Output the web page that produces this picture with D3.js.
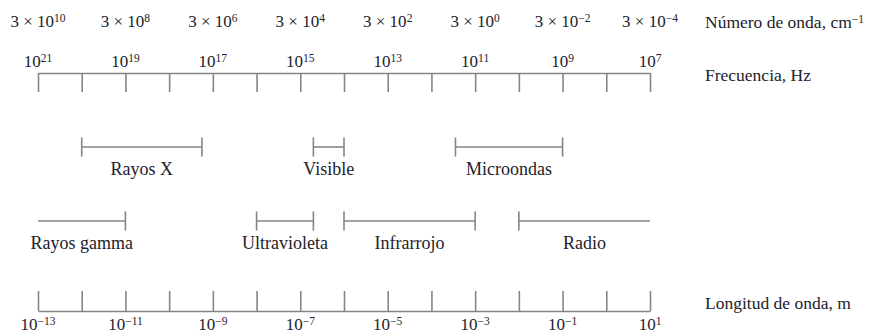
<!DOCTYPE html>
<html>
<head>
<meta charset="utf-8">
<script src="https://cdn.jsdelivr.net/npm/d3@7"></script>
<style>
  html, body { margin: 0; padding: 0; background: #fff; }
  svg { display: block; }
  text { font-family: "Liberation Serif", "Times New Roman", serif; fill: #22222c; }
</style>
</head>
<body>
<svg id="chart" width="875" height="334"></svg>
<script>
// Decade exponents of frequency (Hz) spanned by the scale
const freqDomainExp = [21, 7];
// Every decade gets a tick
const tickExps = d3.range(21, 6, -1);
// Labelled decades (every second one)
const freqLabelExps = [21, 19, 17, 15, 13, 11, 9, 7];
// Wavenumber labels, cm^-1: mantissa 3, exponents below
const waveNumMantissa = 3;
const waveNumExps = [10, 8, 6, 4, 2, 0, -2, -4];
// Wavelength labels, m
const waveLenExps = [-13, -11, -9, -7, -5, -3, -1, 1];

// Spectral regions, bounds as log10(frequency / Hz)
const bandNames = ["Rayos X", "Visible", "Microondas", "Rayos gamma", "Ultravioleta", "Infrarrojo", "Radio"];
const bandHigh  = [20, 14.7, 11.45, 21, 16, 14, 10];
const bandLow   = [17.25, 14, 9, 19, 14.7, 11, 7];
const bandRow   = [0, 0, 0, 1, 1, 1, 1];
// whether the high / low ends are closed with a cap
const bandCapHigh = [true, true, true, false, true, true, true];
const bandCapLow  = [true, true, true, true, true, true, false];

const axisTitles = ["Número de onda, cm", "Frecuencia, Hz", "Longitud de onda, m"];

const svg = d3.select("#chart");
const lineColor = "#858585";

const x = d3.scaleLog()
  .domain(freqDomainExp.map(e => Math.pow(10, e)))
  .range([38, 650]);

const minus = n => (n < 0 ? "\u2212" + Math.abs(n) : String(n));

// power-of-ten label with raised exponent
function powerLabel(g, xPos, y, exp, prefix) {
  const t = g.append("text")
    .attr("x", xPos)
    .attr("y", y)
    .attr("text-anchor", "middle")
    .style("font-size", "17px");
  t.append("tspan").text((prefix || "") + "10");
  t.append("tspan")
    .attr("dy", -5)
    .style("font-size", "11.5px")
    .text(minus(exp));
}

// ---- top (frequency) axis: ticks hang down from the rule
const yTop = 73;
const topAxis = d3.axisBottom(x)
  .tickValues(tickExps.map(e => Math.pow(10, e)))
  .tickSize(19)
  .tickSizeOuter(0)
  .tickFormat("");
const gTop = svg.append("g").attr("transform", `translate(0,${yTop})`).call(topAxis);

// ---- bottom (wavelength) axis: ticks rise from the rule
const yBot = 311;
const botAxis = d3.axisTop(x)
  .tickValues(tickExps.map(e => Math.pow(10, e)))
  .tickSize(20)
  .tickSizeOuter(0)
  .tickFormat("");
const gBot = svg.append("g").attr("transform", `translate(0,${yBot})`).call(botAxis);

[gTop, gBot].forEach(g => {
  g.select(".domain").attr("stroke", lineColor).attr("stroke-width", 1.6);
  g.selectAll(".tick line").attr("stroke", lineColor).attr("stroke-width", 1.6);
});

// ---- labels
const gLabels = svg.append("g");
freqLabelExps.forEach((e, i) => {
  const xp = x(Math.pow(10, e));
  powerLabel(gLabels, xp, 67, e);
  powerLabel(gLabels, xp, 27, waveNumExps[i], waveNumMantissa + " \u00d7 ");
  powerLabel(gLabels, xp, 330, waveLenExps[i]);
});

// axis titles
const tWn = gLabels.append("text").attr("x", 705).attr("y", 28).style("font-size", "17.5px");
tWn.append("tspan").text(axisTitles[0]);
tWn.append("tspan").attr("dy", -5).style("font-size", "11.5px").text("\u22121");
gLabels.append("text").attr("x", 705).attr("y", 81).style("font-size", "17.5px").text(axisTitles[1]);
gLabels.append("text").attr("x", 705).attr("y", 309).style("font-size", "17.5px").text(axisTitles[2]);

// ---- spectral bands
const rowLineY = [147, 221];
const rowTextY = [175, 249];
const capHalf = 9.5;

const bands = bandNames.map((name, i) => ({
  name, hi: bandHigh[i], lo: bandLow[i], row: bandRow[i],
  capHi: bandCapHigh[i], capLo: bandCapLow[i]
}));

const gBands = svg.append("g");
bands.forEach(b => {
  const x1 = x(Math.pow(10, b.hi));
  const x2 = x(Math.pow(10, b.lo));
  const y = rowLineY[b.row];
  const g = gBands.append("g");
  g.append("line")
    .attr("x1", x1).attr("x2", x2).attr("y1", y).attr("y2", y)
    .attr("stroke", lineColor).attr("stroke-width", 1.6);
  if (b.capHi) g.append("line").attr("x1", x1).attr("x2", x1)
    .attr("y1", y - capHalf).attr("y2", y + capHalf)
    .attr("stroke", lineColor).attr("stroke-width", 1.6);
  if (b.capLo) g.append("line").attr("x1", x2).attr("x2", x2)
    .attr("y1", y - capHalf).attr("y2", y + capHalf)
    .attr("stroke", lineColor).attr("stroke-width", 1.6);
  g.append("text")
    .attr("x", (x1 + x2) / 2)
    .attr("y", rowTextY[b.row])
    .attr("text-anchor", "middle")
    .style("font-size", "18px")
    .text(b.name);
});
</script>
</body>
</html>
